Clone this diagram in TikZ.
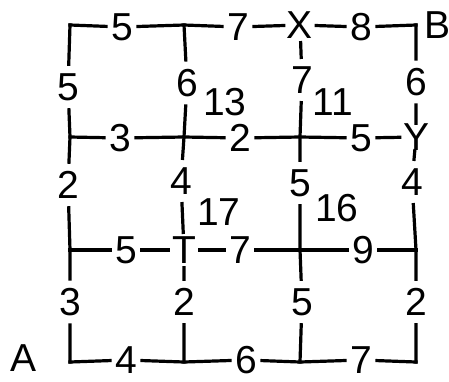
\documentclass[tikz,border=0pt]{standalone}
\usepackage{fontspec}
\setmainfont{Liberation Sans}
\usetikzlibrary{positioning}

\begin{document}
\begin{tikzpicture}[
  x=1pt, y=-1pt,
  font=\fontsize{39}{39}\selectfont,
  road/.style={line width=3.2pt, line cap=rect, black},
  hweight/.style={inner xsep=5pt, inner ysep=0pt},
  vweight/.style={inner xsep=0pt, inner ysep=9pt},
  stopnode/.style={inner xsep=3pt, inner ysep=4pt},
  ynode/.style={inner xsep=3pt, inner ysep=0pt},
  cellnum/.style={inner sep=0pt},
  endname/.style={inner sep=0pt}
]
\useasboundingbox (0,0) rectangle (449,381);

% Grid points (row, column), y runs downwards
\foreach \r/\y in {1/25,2/137,3/250,4/362}
  \foreach \c/\x in {1/70,2/184,3/300,4/416}
    \coordinate (p\r\c) at (\x,\y);

% Named stops on the grid
\node[stopnode] (X) at (p13) {X};
\node[ynode]    (Y) at (p24) {Y};
\node[stopnode] (T) at (p32) {T};

% End points
\node[endname] (A) at (24,358) {A};
\node[endname] (B) at (437,25) {B};

% Weights on horizontal streets
\foreach \n/\x/\y/\w in {h11/122/27/5, h12/238/27/7, h13/361/27/8,
                         h21/120/138/3, h22/240/138/2, h23/361/138/5,
                         h31/126/250/5, h32/240/250/7, h33/363/250/9,
                         h41/126/360/4, h42/246/360/6, h43/361/360/7}
  \node[hweight] (\n) at (\x,\y) {\w};

% Weights on vertical streets
\foreach \n/\x/\y/\w in {v11/68/87/5, v21/68/185/2, v31/70/302/3,
                         v12/187/83/6, v22/181/181/4, v32/184/302/2,
                         v13/302/80/7, v23/300/183/5, v33/302/302/5,
                         v14/416/82/6, v24/412/182/4, v34/416/302/2}
  \node[vweight] (\n) at (\x,\y) {\w};

% Numbers inside the blocks
\node[cellnum] (b13) at (225,102) {13};
\node[cellnum] (b11) at (333,102) {11};
\node[cellnum] (b17) at (219,212) {17};
\node[cellnum] (b16) at (337,208) {16};

% Horizontal streets
\draw[road] (p11) -- (h11) -- (p12) -- (h12) -- (X) -- (h13) -- (p14);
\draw[road] (p21) -- (h21) -- (p22) -- (h22) -- (p23) -- (h23) -- (Y);
\draw[road] (p31) -- (h31) -- (T) -- (h32) -- (p33) -- (h33) -- (p34);
\draw[road] (p41) -- (h41) -- (p42) -- (h42) -- (p43) -- (h43) -- (p44);

% Vertical streets
\draw[road] (p11) -- (v11) -- (p21) -- (v21) -- (p31) -- (v31) -- (p41);
\draw[road] (p12) -- (v12) -- (p22) -- (v22) -- (T) -- (v32) -- (p42);
\draw[road] (X) -- (v13) -- (p23) -- (v23) -- (p33) -- (v33) -- (p43);
\draw[road] (p14) -- (v14) -- (Y) -- (v24) -- (p34) -- (v34) -- (p44);

\end{tikzpicture}
\end{document}
